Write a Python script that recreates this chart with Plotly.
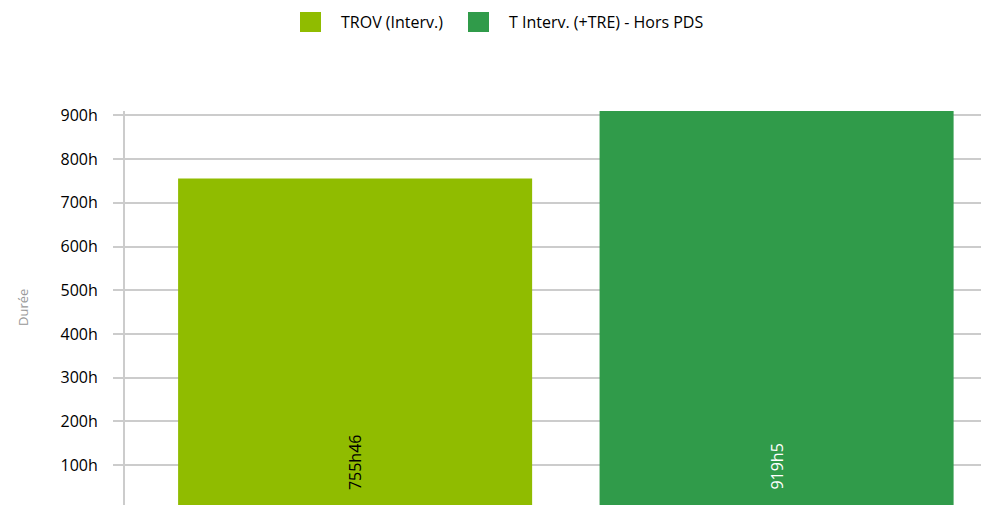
import plotly.graph_objects as go

categories = ["TROV (Interv.)", "T Interv. (+TRE) - Hors PDS"]
values_hours = [755 + 46/60, 919 + 5/60]
value_labels = ["755h46", "919h5"]
bar_colors = ["#90BC00", "#309B4A"]
label_colors = ["#000000", "#FFFFFF"]
tick_vals = [100, 200, 300, 400, 500, 600, 700, 800, 900]
tick_text = ["100h", "200h", "300h", "400h", "500h", "600h", "700h", "800h", "900h"]

# page body has an 8px margin; work in screen pixels and compensate
OFF = 8
SW, SH = 989, 505
W, H = SW - OFF, SH - OFF
L, R, T, B = 125 - OFF, 0, 111 - OFF, 0
pw, ph = W - L - R, H - T - B

def px_x(px):
    return (px - OFF - L) / pw

def px_y(py):
    return (H - B - (py - OFF)) / ph

FONT = "Open Sans"

fig = go.Figure()
fig.add_trace(go.Bar(
    x=categories, y=values_hours,
    marker=dict(color=bar_colors, line=dict(width=0)),
    showlegend=False, hoverinfo="skip",
))

annotations = []
for cat, lab, col in zip(categories, value_labels, label_colors):
    annotations.append(dict(
        x=cat, xref="x", y=px_y(492), yref="paper",
        text=lab, textangle=-90, showarrow=False,
        xanchor="center", yanchor="bottom",
        font=dict(family=FONT, size=16, color=col),
    ))

annotations.append(dict(
    x=px_x(22.5), xref="paper", y=px_y(307.5), yref="paper",
    text="Durée", textangle=-90, showarrow=False,
    xanchor="center", yanchor="middle",
    font=dict(family=FONT, size=13, color="#999999"),
))

shapes = []
leg = [(300, 339), (468, 507)]
for (sx, tx), cat, col in zip(leg, categories, bar_colors):
    shapes.append(dict(
        type="rect", xref="paper", yref="paper",
        x0=px_x(sx), x1=px_x(sx + 21), y0=px_y(32), y1=px_y(12),
        fillcolor=col, line=dict(width=0),
    ))
    annotations.append(dict(
        x=px_x(tx), xref="paper", y=px_y(22), yref="paper",
        text=cat, showarrow=False, xanchor="left", yanchor="middle",
        font=dict(family=FONT, size=16, color="#000000"),
    ))

fig.update_layout(
    width=W, height=H,
    margin=dict(l=L, r=R, t=T, b=B, pad=0),
    paper_bgcolor="white", plot_bgcolor="white",
    bargap=0.16,
    annotations=annotations, shapes=shapes,
    font=dict(family=FONT, size=16, color="#000000"),
)
fig.update_xaxes(
    range=[-0.546, 1.504], showticklabels=False, showgrid=False,
    zeroline=False, showline=False, ticks="",
)
fig.update_yaxes(
    range=[9, 910], tickvals=tick_vals, ticktext=tick_text,
    showgrid=True, gridcolor="#CCCCCC", gridwidth=2,
    zeroline=False, showline=True, linecolor="#CCCCCC", linewidth=2,
    ticks="outside", ticklen=10, tickcolor="#CCCCCC", tickwidth=2,
    ticklabelstandoff=12,
    tickfont=dict(family=FONT, size=16, color="#000000"),
)

fig.write_html("out.html")
